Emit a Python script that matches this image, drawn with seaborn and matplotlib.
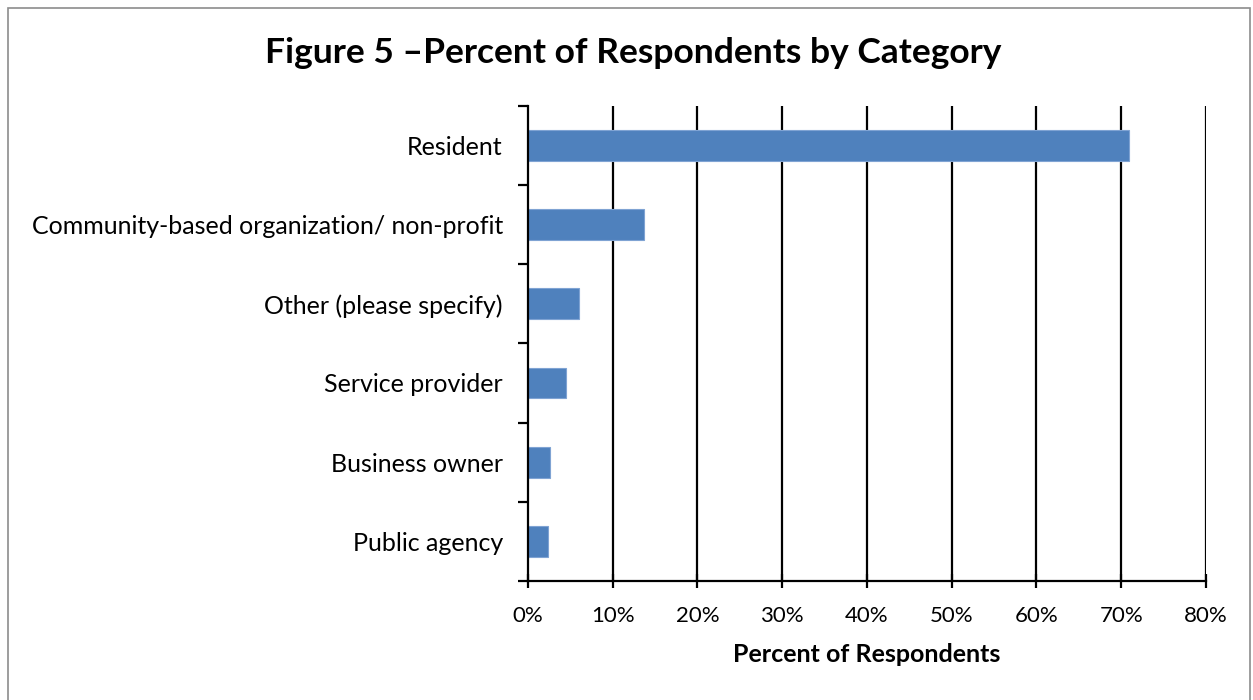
import matplotlib
matplotlib.use("Agg")
import matplotlib.pyplot as plt
from matplotlib.patches import Rectangle
from matplotlib.ticker import FixedLocator, PercentFormatter
import seaborn as sns
import pandas as pd

categories = [
    "Resident",
    "Community-based organization/ non-profit",
    "Other (please specify)",
    "Service provider",
    "Business owner",
    "Public agency",
]
percent = [70.9, 13.7, 6.1, 4.5, 2.6, 2.4]
x_ticks = [0, 10, 20, 30, 40, 50, 60, 70, 80]

df = pd.DataFrame({"Category": categories, "Percent": percent})

sns.set_theme(style="white")
plt.rcParams["font.family"] = ["Lato", "DejaVu Sans"]

fig = plt.figure(figsize=(12.53, 7.0), dpi=100)
ax = fig.add_axes([0.4212, 0.170, 0.5413, 0.679])

sns.barplot(data=df, x="Percent", y="Category", orient="h", color="#4F81BD",
            saturation=1, width=0.39, edgecolor="#7FA3D3", linewidth=0.8, ax=ax)

ax.set_xlim(0, 80)
ax.set_ylim(len(categories) - 0.5, -0.5)
ax.set_xticks(x_ticks)
ax.xaxis.set_major_formatter(PercentFormatter(decimals=0))

# vertical gridlines
for v in x_ticks[1:]:
    ax.axvline(v, color="black", linewidth=1.6, zorder=0)

for side in ["top", "right"]:
    ax.spines[side].set_visible(False)
for side in ["left", "bottom"]:
    ax.spines[side].set_color("black")
    ax.spines[side].set_linewidth(1.6)

# category boundary ticks on the y axis
ax.yaxis.set_minor_locator(FixedLocator([i - 0.5 for i in range(len(categories) + 1)]))
ax.tick_params(axis="y", which="major", length=0, pad=18, labelsize=18, colors="black")
ax.tick_params(axis="y", which="minor", length=7, width=1.6, direction="out", left=True, color="black")
ax.tick_params(axis="x", which="major", length=10, width=1.6, direction="inout", bottom=True,
               pad=13, labelsize=16, colors="black")

ax.set_ylabel("")
ax.set_xlabel("Percent of Respondents", fontsize=18, fontweight="bold", labelpad=12, color="black")

fig.text(0.505, 0.924, "Figure 5 \u2013Percent of Respondents by Category", ha="center", va="center",
         fontsize=25.5, fontweight="bold", color="black")

# chart frame
fig.patches.append(Rectangle((0.0065, -0.01), 0.991, 0.9985, transform=fig.transFigure,
                             fill=False, edgecolor="#8C8C8C", linewidth=1.2))

fig.savefig("out.png", dpi=100)
